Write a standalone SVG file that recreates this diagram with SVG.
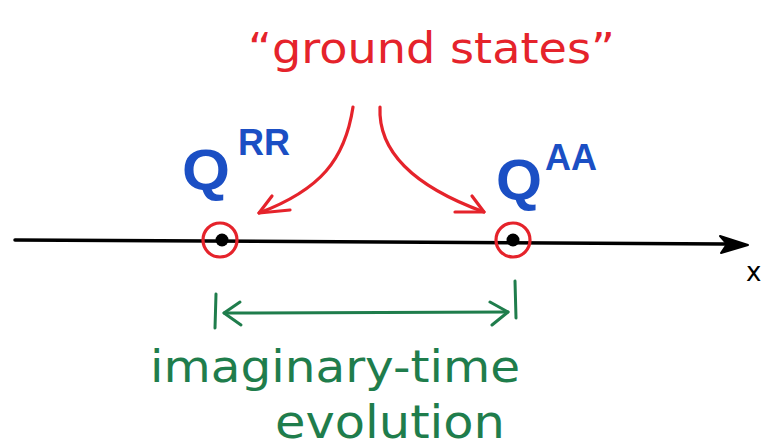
<svg xmlns="http://www.w3.org/2000/svg" width="763" height="448" viewBox="0 0 763 448">
<style>
.red{fill:none;stroke:#e5232b;stroke-width:3.2;stroke-linecap:round;stroke-linejoin:round}
.grn{fill:none;stroke:#1f7d4c;stroke-width:3;stroke-linecap:round;stroke-linejoin:round}
.blk{fill:none;stroke:#000;stroke-width:3.5;stroke-linecap:round}
.tr{fill:#e5232b;font-family:"DejaVu Sans","Liberation Sans",sans-serif}
.tb{fill:#1b4fc4;font-family:"Liberation Sans",sans-serif;font-weight:bold}
.tg{fill:#1f7d4c;font-family:"DejaVu Sans","Liberation Sans",sans-serif}
</style>
<rect width="763" height="448" fill="#fff"/>
<g id="connectors">
<path class="blk" d="M15 240 Q370 243 725 244"/>
<polygon points="720,236 748,245 721,253 727,244" fill="#000" stroke="#000" stroke-width="2" stroke-linejoin="round"/>
<path class="red" d="M353 107 C345 160 320 190 259 213"/>
<path class="red" d="M272 196 L259 213 L290 210"/>
<path class="red" d="M380 107 C378 150 410 185 484 212"/>
<path class="red" d="M472 196 L484 212 L455 212"/>
<path class="grn" d="M216 294 L215 328"/>
<path class="grn" d="M515 281 L516 318"/>
<path class="grn" d="M224 313 L508 312"/>
<path class="grn" d="M240 302 L224 313 L241 325"/>
<path class="grn" d="M490 302 L508 312 L492 325"/>
</g>
<g id="ground-states">
<text class="tr" x="248" y="63" font-size="42" textLength="367" lengthAdjust="spacingAndGlyphs">“ground states”</text>
</g>
<g id="QRR">
<circle cx="220" cy="240" r="17" fill="none" stroke="#e5232b" stroke-width="3.2"/>
<circle cx="222" cy="240" r="6.5" fill="#000"/>
<text class="tb" x="182" y="190" font-size="58" textLength="48" lengthAdjust="spacingAndGlyphs">Q</text>
<text class="tb" x="238" y="155" font-size="36">RR</text>
</g>
<g id="QAA">
<circle cx="513" cy="240" r="17" fill="none" stroke="#e5232b" stroke-width="3.2"/>
<circle cx="513" cy="240" r="6.5" fill="#000"/>
<text class="tb" x="496" y="200" font-size="58" textLength="46" lengthAdjust="spacingAndGlyphs">Q</text>
<text class="tb" x="545" y="170" font-size="36">AA</text>
</g>
<g id="evolution">
<text class="tg" x="150" y="382" font-size="44" textLength="370" lengthAdjust="spacingAndGlyphs">imaginary-time</text>
<text class="tg" x="275" y="438" font-size="46" textLength="230" lengthAdjust="spacingAndGlyphs">evolution</text>
</g>
<text x="746" y="281" font-family="DejaVu Sans,sans-serif" font-size="26" fill="#000">x</text>
</svg>
